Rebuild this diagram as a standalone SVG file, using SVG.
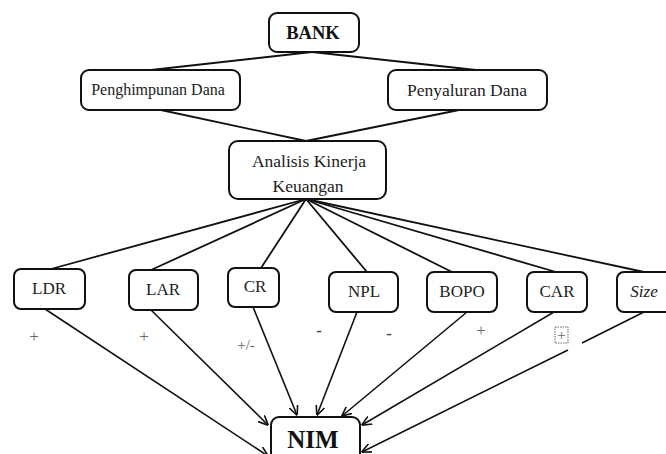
<svg xmlns="http://www.w3.org/2000/svg" width="666" height="454" viewBox="0 0 666 454">
<defs>
<marker id="ah" viewBox="0 0 10 10" refX="9.5" refY="5" markerWidth="10" markerHeight="10" markerUnits="userSpaceOnUse" orient="auto">
<path d="M0,0.5 L10,5 L0,9.5" fill="none" stroke="#111" stroke-width="1.6"/>
</marker>
<style>
.box{fill:#fff;stroke:#111;stroke-width:2}
.t{font-family:"Liberation Serif","Times New Roman",serif;font-size:17px;fill:#222;text-anchor:middle}
.bank{font-weight:bold;fill:#111;font-size:18.5px}
.nim{font-weight:bold;fill:#111;font-size:25px}
.it{font-style:italic}
.ln{stroke:#111;stroke-width:1.8;fill:none}
.ar{stroke:#111;stroke-width:1.6;fill:none;marker-end:url(#ah)}
.lbl{font-family:"Liberation Serif","Times New Roman",serif;font-size:17px;fill:#666;text-anchor:middle}
.sm{font-size:15px}
.dash{font-weight:bold;fill:#444}
</style>
</defs>
<rect width="666" height="454" fill="#fff"/>
<g id="connectors">
<line class="ln" x1="312" y1="52" x2="151" y2="70"/>
<line class="ln" x1="312" y1="52" x2="476" y2="70"/>
<line class="ln" x1="161" y1="110" x2="306" y2="141"/>
<line class="ln" x1="459" y1="110" x2="306" y2="141"/>
<line class="ln" x1="306" y1="199" x2="51" y2="269"/>
<line class="ln" x1="306" y1="199" x2="151" y2="270"/>
<line class="ln" x1="306" y1="199" x2="261" y2="268"/>
<line class="ln" x1="306" y1="199" x2="367" y2="272"/>
<line class="ln" x1="306" y1="199" x2="452" y2="272"/>
<line class="ln" x1="306" y1="199" x2="556" y2="272"/>
<line class="ln" x1="306" y1="199" x2="644" y2="272"/>
<line class="ar" x1="45" y1="309" x2="268" y2="456"/>
<line class="ar" x1="151" y1="310" x2="268" y2="425"/>
<line class="ar" x1="253" y1="307" x2="297" y2="415"/>
<line class="ar" x1="357" y1="312" x2="317" y2="415"/>
<line class="ar" x1="467" y1="312" x2="342" y2="416"/>
<line class="ar" x1="554" y1="312" x2="362" y2="425"/>
<path class="ar" d="M644,312 L582,343 M568,350 L362,452"/>
</g>
<g id="bank"><rect class="box" x="269" y="13" width="90" height="39" rx="8"/><text class="t bank" x="313" y="39">BANK</text></g>
<g id="penghimpunan"><rect class="box" x="81" y="70" width="159" height="40" rx="8"/><text class="t" x="158" y="95" style="font-size:16px">Penghimpunan Dana</text></g>
<g id="penyaluran"><rect class="box" x="388" y="70" width="159" height="40" rx="8"/><text class="t" x="467" y="96" style="font-size:17.5px">Penyaluran Dana</text></g>
<g id="analisis"><rect class="box" x="229" y="141" width="157" height="58" rx="9"/><text class="t" x="309" y="167" style="font-size:17.5px">Analisis Kinerja</text><text class="t" x="308" y="192" style="font-size:17.5px">Keuangan</text></g>
<g id="ldr"><rect class="box" x="14" y="269" width="71" height="40" rx="7"/><text class="t" x="49" y="294">LDR</text></g>
<g id="lar"><rect class="box" x="129" y="270" width="69" height="40" rx="7"/><text class="t" x="163" y="295">LAR</text></g>
<g id="cr"><rect class="box" x="228" y="268" width="51" height="39" rx="7"/><text class="t" x="255" y="292">CR</text></g>
<g id="npl"><rect class="box" x="329" y="272" width="69" height="40" rx="7"/><text class="t" x="364" y="297">NPL</text></g>
<g id="bopo"><rect class="box" x="427" y="272" width="70" height="40" rx="7"/><text class="t" x="462" y="297">BOPO</text></g>
<g id="car"><rect class="box" x="527" y="272" width="60" height="40" rx="7"/><text class="t" x="557" y="297">CAR</text></g>
<g id="size"><rect class="box" x="617" y="272" width="60" height="40" rx="7"/><text class="t it" x="644" y="297">Size</text></g>
<g id="nim"><rect class="box" x="271" y="417" width="89" height="50" rx="8"/><text class="t nim" x="313" y="448">NIM</text></g>
<g id="labels">
<text class="lbl" x="34" y="342">+</text>
<text class="lbl" x="144" y="342">+</text>
<text class="lbl sm" x="246" y="350">+/-</text>
<text class="lbl dash" x="319" y="336">-</text>
<text class="lbl dash" x="389" y="339">-</text>
<text class="lbl" x="481" y="336">+</text>
<rect x="555" y="327" width="13" height="16" fill="none" stroke="#555" stroke-width="0.9" stroke-dasharray="1.5,1"/>
<text class="lbl sm" x="561.5" y="340" fill="#333">+</text>
</g>
</svg>
